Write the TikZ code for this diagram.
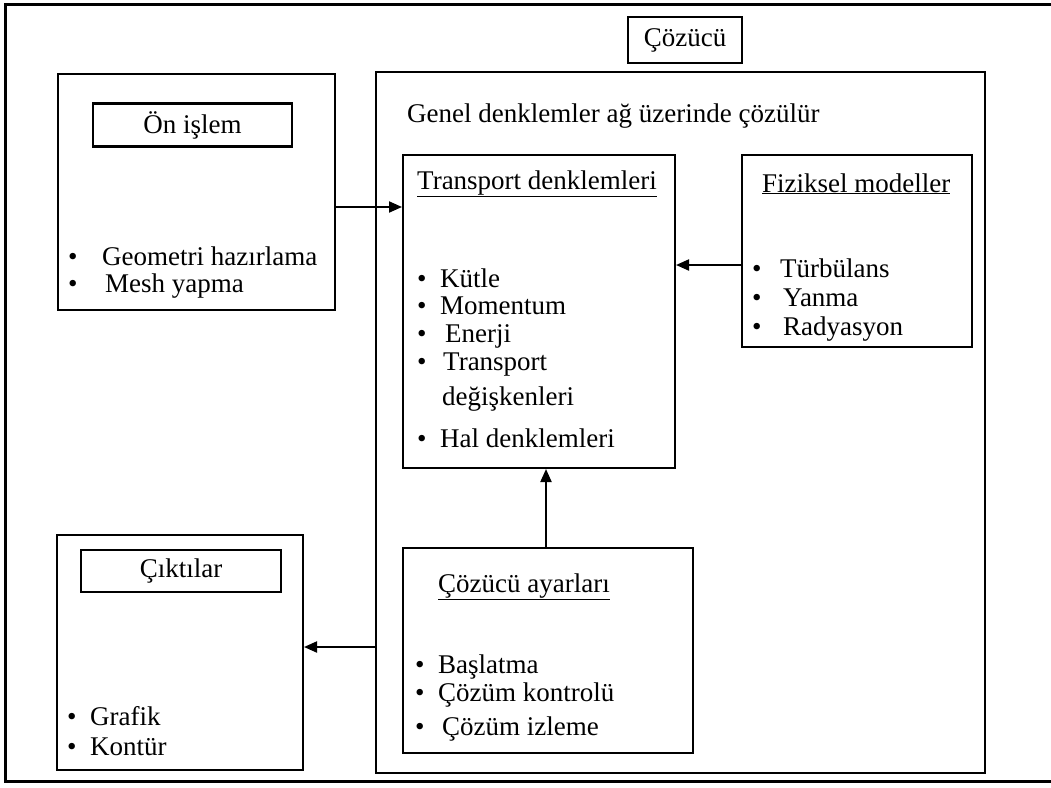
\documentclass[tikz,border=0pt]{standalone}
\usepackage{fontspec}
\setmainfont{Liberation Serif}
\usetikzlibrary{arrows.meta}
\newcommand\myitem[2]{\makebox[#1pt][l]{\textbullet}#2}
\begin{document}
\begin{tikzpicture}[x=1pt,y=-1pt,font=\fontsize{27}{32}\selectfont,
  box/.style={draw,line width=2pt,inner sep=0pt},
  txt/.style={inner sep=0pt,anchor=base west},
  arr/.style={line width=2pt,-{Triangle[length=13pt,width=11pt]}}]
\useasboundingbox (0,0) rectangle (1051,787);
\fill[white] (0,0) rectangle (1051,787);
\draw[line width=3pt] (1052,4) -- (5,4) -- (5,781) -- (1052,781);

% Solver title and main box
\node[box,minimum width=114pt,minimum height=46pt,line width=2.5pt] (cz) at (685,40) {Çözücü};
\node[box,minimum width=609pt,minimum height=701pt] (sol) at (680.5,422.5) {};
\node[txt] (gen) at (407,122) {Genel denklemler ağ üzerinde çözülür};

% Pre-processing
\node[box,minimum width=277pt,minimum height=236pt] (on) at (196.5,192) {};
\node[box,minimum width=199pt,minimum height=43pt,line width=2.5pt] (ont) at (192.5,125) {Ön işlem};
\node[txt] (on1) at (68,265) {\myitem{34}{Geometri hazırlama}};
\node[txt] (on2) at (68,292) {\myitem{37}{Mesh yapma}};

% Transport equations
\node[box,minimum width=272pt,minimum height=313pt] (tr) at (539,311.5) {};
\node[txt] (trt) at (417,189) {\underline{Transport denklemleri}};
\node[txt] (tr1) at (417,287) {\myitem{23}{Kütle}};
\node[txt] (tr2) at (417,314) {\myitem{23}{Momentum}};
\node[txt] (tr3) at (417,342) {\myitem{28}{Enerji}};
\node[txt] (tr4) at (417,370) {\myitem{26}{Transport}};
\node[txt] (tr5) at (442,405) {değişkenleri};
\node[txt] (tr6) at (417,447) {\myitem{23}{Hal denklemleri}};

% Physical models
\node[box,minimum width=230pt,minimum height=192pt,line width=2.5pt] (fz) at (857,251) {};
\node[txt] (fzt) at (762,192) {\underline{Fiziksel modeller}};
\node[txt] (fz1) at (752,277) {\myitem{28}{Türbülans}};
\node[txt] (fz2) at (752,306) {\myitem{31}{Yanma}};
\node[txt] (fz3) at (752,335) {\myitem{31}{Radyasyon}};

% Outputs
\node[box,minimum width=246pt,minimum height=235pt] (ck) at (180,652.5) {};
\node[box,minimum width=200pt,minimum height=42pt] (ckt) at (181,571) {Çıktılar};
\node[txt] (ck1) at (67,725) {\myitem{23}{Grafik}};
\node[txt] (ck2) at (67,755) {\myitem{23}{Kontür}};

% Solver settings
\node[box,minimum width=290pt,minimum height=205pt] (ay) at (548,650.5) {};
\node[txt] (ayt) at (438,592) {\underline{Çözücü ayarları}};
\node[txt] (ay1) at (415,673) {\myitem{23}{Başlatma}};
\node[txt] (ay2) at (415,701) {\myitem{23}{Çözüm kontrolü}};
\node[txt] (ay3) at (415,735) {\myitem{27}{Çözüm izleme}};

% Connectors
\coordinate (c1) at (0,207);
\coordinate (c2) at (0,265);
\coordinate (c3) at (546,0);
\coordinate (c4) at (0,647);
\draw[arr] (on.east |- c1) -- (tr.west |- c1);
\draw[arr] (fz.west |- c2) -- (tr.east |- c2);
\draw[arr] (ay.north -| c3) -- (tr.south -| c3);
\draw[arr] (sol.west |- c4) -- (ck.east |- c4);
\end{tikzpicture}
\end{document}
